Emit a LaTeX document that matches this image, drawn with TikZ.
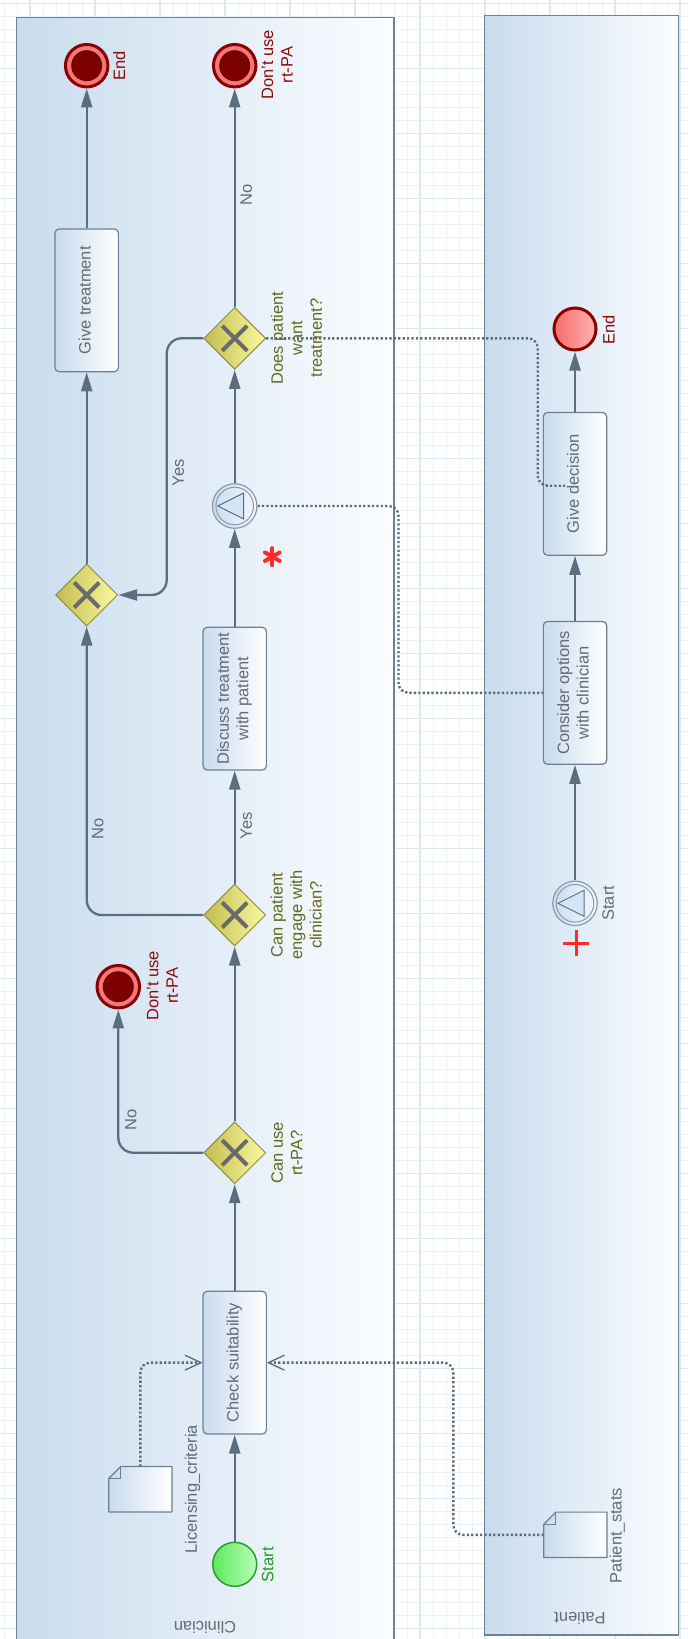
\documentclass[tikz,border=0pt]{standalone}
\usepackage{fontspec}
\setmainfont{Liberation Sans}
\usetikzlibrary{arrows.meta,shapes.geometric}
\definecolor{flowc}{HTML}{5B6E80}
\definecolor{dotc}{HTML}{5A6B7C}
\definecolor{poolB}{HTML}{6E8297}
\definecolor{poolL}{HTML}{C9DCEE}
\definecolor{poolR}{HTML}{FBFDFF}
\definecolor{taskB}{HTML}{6D8093}
\definecolor{taskL}{HTML}{C8DBEE}
\definecolor{taskR}{HTML}{FFFFFF}
\definecolor{gwB}{HTML}{8E8E3E}
\definecolor{gwL}{HTML}{C4BC4E}
\definecolor{gwR}{HTML}{FAFAA2}
\definecolor{gwX}{HTML}{6A6A6A}
\definecolor{endD}{HTML}{8B0000}
\definecolor{endP}{HTML}{F07A7A}
\definecolor{endI}{HTML}{7C0000}
\definecolor{pendL}{HTML}{F76B6B}
\definecolor{pendR}{HTML}{FFB3B3}
\definecolor{stL}{HTML}{5EE85E}
\definecolor{stR}{HTML}{B8FFB8}
\definecolor{stB}{HTML}{2F9B2F}
\definecolor{evB}{HTML}{8A9AAB}
\definecolor{evL}{HTML}{C9DDF0}
\definecolor{evR}{HTML}{F3F8FD}
\definecolor{triF}{HTML}{D3E5F6}
\definecolor{txtG}{HTML}{636B74}
\definecolor{txtR}{HTML}{8E0B0B}
\definecolor{txtGr}{HTML}{1E9A1E}
\definecolor{txtO}{HTML}{67671B}
\definecolor{gridm}{HTML}{EBF2F9}
\definecolor{gridM}{HTML}{DCE8F4}
\definecolor{markc}{HTML}{FF2A2A}
\newcommand\labf{\fontsize{16.5}{19.5}\selectfont}
\newcommand\rottxt[1]{\rotatebox{90}{\begin{tabular}{@{}c@{}}#1\end{tabular}}}
\begin{document}
\begin{tikzpicture}[x=1pt,y=-1pt,
  pool/.style={draw=poolB, line width=1.5pt, left color=poolL, right color=poolR, inner sep=0pt},
  task/.style={draw=taskB, line width=1.2pt, rounded corners=4pt, left color=taskL, right color=taskR,
    minimum width=63.3pt, minimum height=142.7pt, inner sep=0pt, text=txtG, font=\labf},
  gw/.style={diamond, draw=gwB, line width=1pt, left color=gwL, right color=gwR, minimum size=62pt, inner sep=0pt,
    path picture={
      \draw[gwX, line width=4pt] ([shift={(-12.5pt,-12.5pt)}]path picture bounding box.center) -- ([shift={(12.5pt,12.5pt)}]path picture bounding box.center);
      \draw[gwX, line width=4pt] ([shift={(-12.5pt,12.5pt)}]path picture bounding box.center) -- ([shift={(12.5pt,-12.5pt)}]path picture bounding box.center);}},
  endterm/.style={circle, draw=endD, line width=3pt, fill=endP, minimum size=42.5pt, inner sep=0pt,
    path picture={\fill[endI] (path picture bounding box.center) circle (15.5pt);}},
  pendev/.style={circle, draw=endD, line width=3pt, left color=pendL, right color=pendR, minimum size=42pt, inner sep=0pt},
  startev/.style={circle, draw=stB, line width=1.5pt, left color=stL, right color=stR, minimum size=44pt, inner sep=0pt},
  sigev/.style={circle, draw=evB, line width=1.2pt, left color=evL, right color=evR, minimum size=44.5pt, inner sep=0pt,
    path picture={
      \draw[evB, line width=1pt] (path picture bounding box.center) circle (18.8pt);
      \filldraw[fill=triF, draw=flowc, line width=1pt] ([shift={(-17pt,0pt)}]path picture bounding box.center) -- ([shift={(9pt,13pt)}]path picture bounding box.center) -- ([shift={(9pt,-13pt)}]path picture bounding box.center) -- cycle;}},
  dataobj/.style={inner sep=0pt, minimum width=62.7pt, minimum height=45pt},
  lab/.style={font=\labf, inner sep=0pt, rotate=90, align=center},
  poollab/.style={font=\labf, inner sep=0pt, rotate=180, text=txtG},
  flow/.style={draw=flowc, line width=2.3pt, rounded corners=15pt, -{Triangle[length=19pt,width=11pt]}},
  assoc/.style={draw=dotc, line width=2.4pt, dash pattern=on 2.2pt off 2.2pt, rounded corners=10pt,
    -{Straight Barb[length=16pt,width=15pt,line width=1.3pt]}},
  msgline/.style={draw=dotc, line width=2.4pt, dash pattern=on 2.2pt off 2.2pt, rounded corners=10pt}
]
\useasboundingbox (0,0) rectangle (688,1639);
\begin{scope}
\clip (0,0) rectangle (688,1639);
\foreach \x in {4,17,...,688} \draw[gridm, line width=1pt] (\x,0) -- (\x,1639);
\foreach \y in {3.3,16.3,...,1639} \draw[gridm, line width=1pt] (0,\y) -- (688,\y);
\foreach \x in {30,95,...,688} \draw[gridM, line width=1.3pt] (\x,0) -- (\x,1639);
\foreach \y in {3.3,68.3,...,1639} \draw[gridM, line width=1.3pt] (0,\y) -- (688,\y);
\node[pool, minimum width=377.3pt, minimum height=1640pt] (clin) at (205.35,837.7) {};
\node[pool, minimum width=193.6pt, minimum height=1619.3pt] (pat) at (581.5,825.35) {};
\end{scope}
\node[poollab] (clinlbl) at (205,1627) {Clinician};
\node[poollab] (patlbl) at (580,1618) {Patient};

% data objects
\node[dataobj] (lic) at (140.35,1489.2) {};
\shade[left color=taskL, right color=taskR] ([xshift=12pt]lic.north west) -- (lic.north east) -- (lic.south east) -- (lic.south west) -- ([yshift=-12pt]lic.north west) -- cycle;
\draw[taskB, line width=1.2pt, line join=round] ([xshift=12pt]lic.north west) -- (lic.north east) -- (lic.south east) -- (lic.south west) -- ([yshift=-12pt]lic.north west) -- cycle;
\draw[taskB, line width=1pt] ([yshift=-12pt]lic.north west) -- ([xshift=12pt,yshift=-12pt]lic.north west) -- ([xshift=12pt]lic.north west);
\node[dataobj] (pstat) at (575.35,1534.8) {};
\shade[left color=taskL, right color=taskR] ([xshift=12pt]pstat.north west) -- (pstat.north east) -- (pstat.south east) -- (pstat.south west) -- ([yshift=-12pt]pstat.north west) -- cycle;
\draw[taskB, line width=1.2pt, line join=round] ([xshift=12pt]pstat.north west) -- (pstat.north east) -- (pstat.south east) -- (pstat.south west) -- ([yshift=-12pt]pstat.north west) -- cycle;
\draw[taskB, line width=1pt] ([yshift=-12pt]pstat.north west) -- ([xshift=12pt,yshift=-12pt]pstat.north west) -- ([xshift=12pt]pstat.north west);
\node[lab, text=txtG] (liclbl) at (192.5,1489.2) {Licensing\_criteria};
\node[lab, text=txtG] (pstatlbl) at (617.3,1535.8) {Patient\_stats};

% clinician nodes
\node[startev] (start1) at (234.7,1564.3) {};
\node[task] (check) at (234.7,1362.65) {\rottxt{Check suitability}};
\node[gw] (gw1) at (234.7,1152.7) {};
\node[endterm] (end2) at (118.3,986.7) {};
\node[gw] (gw2) at (234.7,915) {};
\node[task] (discuss) at (234.7,698.65) {\rottxt{Discuss treatment\\with patient}};
\node[sigev] (ie) at (234.7,506) {};
\node[gw] (gw3) at (234.7,338.3) {};
\node[endterm] (end3) at (234.7,65.7) {};
\node[gw] (gw4) at (86.7,595) {};
\node[task] (give) at (86.7,300.35) {\rottxt{Give treatment}};
\node[endterm] (end1) at (86.7,65.7) {};

% patient nodes
\node[sigev] (pstart) at (575,903.3) {};
\node[task] (consider) at (575,692.85) {\rottxt{Consider options\\with clinician}};
\node[task] (decide) at (575,483.85) {\rottxt{Give decision}};
\node[pendev] (pend) at (575,329) {};

% labels
\node[lab, text=txtGr] (start1lbl) at (267.8,1564.7) {Start};
\node[lab, text=txtG] (pstartlbl) at (608.3,903.3) {Start};
\node[lab, text=txtR] (end1lbl) at (119.2,65.7) {End};
\node[lab, text=txtR] (pendlbl) at (608.8,330) {End};
\node[lab, text=txtR] (end3lbl) at (277.2,65) {Don't use\\rt-PA};
\node[lab, text=txtR] (end2lbl) at (162.5,985.8) {Don't use\\rt-PA};
\node[lab, text=txtO] (gw1lbl) at (287,1153) {Can use\\rt-PA?};
\node[lab, text=txtO] (gw2lbl) at (296.2,915) {Can patient\\engage with\\clinician?};
\node[lab, text=txtO] (gw3lbl) at (296.5,338) {Does patient\\want\\treatment?};
\node[lab, text=txtG] (no1) at (130.8,1120.3) {No};
\node[lab, text=txtG] (no2) at (97.8,829.3) {No};
\node[lab, text=txtG] (yes2) at (246.2,825.8) {Yes};
\node[lab, text=txtG] (yes3) at (178.2,472.8) {Yes};
\node[lab, text=txtG] (no3) at (246.2,195) {No};

% sequence flows
\draw[flow] (start1) -- (check);
\draw[flow] (check) -- (gw1);
\draw[flow] (gw1) -- (gw2);
\draw[flow] (gw1.west) -| (end2.south);
\draw[flow] (gw2) -- (discuss);
\draw[flow] (gw2.west) -| (gw4.south);
\draw[flow] (discuss) -- (ie);
\draw[flow] (ie) -- (gw3);
\draw[flow] (gw3) -- (end3);
\coordinate (yesc) at (166.7,595);
\draw[flow] (gw3.west) -| (yesc) -- (gw4.east);
\draw[flow] (gw4) -- (give);
\draw[flow] (give) -- (end1);
\draw[flow] (pstart) -- (consider);
\draw[flow] (consider) -- (decide);
\draw[flow] (decide) -- (pend);

% associations and message lines
\draw[assoc] (lic.north) |- (check.west);
\coordinate (ps1) at (453.3,1362.65);
\draw[assoc] (pstat.west) -| (ps1) -- (check.east);
\coordinate (m1) at (398.5,692.85);
\draw[msgline] (ie.east) -| (m1) -- (consider.west);
\coordinate (m2) at (537.7,485.7);
\coordinate (m3) at (565,485.7);
\draw[msgline] (gw3.east) -| (m2) -- (m3);

% markers
\coordinate (ast) at (272.3,556.7);
\foreach \a in {90,30,150} \draw[markc, line width=4pt, line cap=round] (ast) ++(\a:8.5pt) -- ++(\a+180:17pt);
\coordinate (plus) at (576,943);
\draw[markc, line width=3pt] (plus) ++(-13pt,0pt) -- ++(26pt,0pt);
\draw[markc, line width=3pt] (plus) ++(0pt,-13pt) -- ++(0pt,26pt);
\end{tikzpicture}
\end{document}
